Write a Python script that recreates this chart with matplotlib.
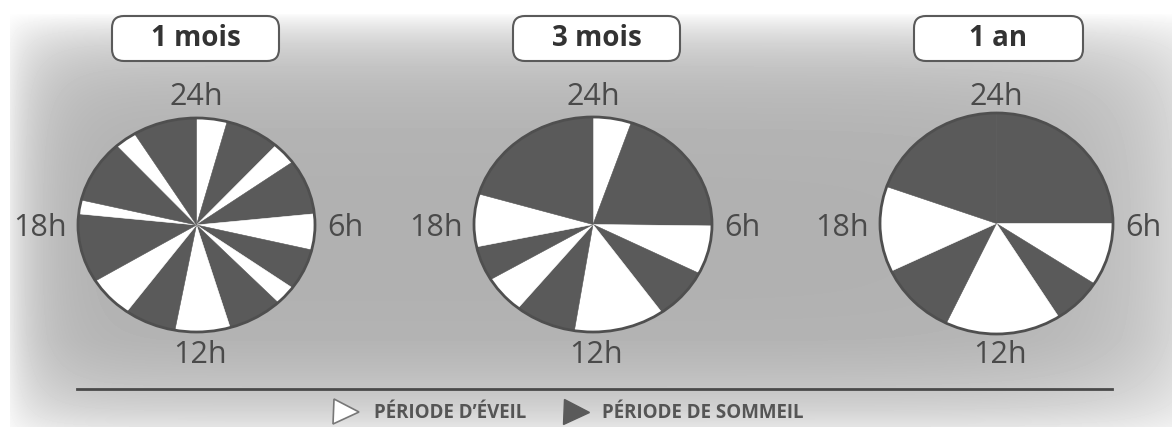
import matplotlib.pyplot as plt
from matplotlib.patches import FancyBboxPatch, Circle
import numpy as np

# durées (heures) à partir de 24h, dans le sens horaire, états alternés
titres = ['1 mois', '3 mois', '1 an']
pie1_heures = [1.0, 1.8, 0.8, 2.0, 1.3, 1.5, 0.7, 1.8, 1.8, 1.7, 1.5, 2.5, 0.5, 2.3, 0.7, 2.1]
pie2_heures = [1.25, 4.8, 1.75, 1.85, 2.95, 2.0, 1.35, 1.25, 1.9, 4.9]
pie3_heures = [6.0, 2.2, 1.65, 3.85, 2.6, 3.0, 4.7]
premier_etat = ['eveil', 'eveil', 'sommeil']
heures_labels = ['24h', '6h', '12h', '18h']
legende = ['PÉRIODE D’ÉVEIL', 'PÉRIODE DE SOMMEIL']

W, H = 1172, 434
BLANC = '#ffffff'
SOMBRE = '#5a5a5a'
TXT = '#4a4a4a'
plt.rcParams['font.family'] = ['Open Sans', 'DejaVu Sans']

fig = plt.figure(figsize=(W / 100, H / 100), dpi=100)
ax = fig.add_axes([0, 0, 1, 1])
ax.set_xlim(0, W)
ax.set_ylim(H, 0)
ax.axis('off')

# fond gris avec bords éclaircis
x = np.arange(W) + 0.5
y = np.arange(H) + 0.5
X, Y = np.meshgrid(x, y)
x0, x1, y0, y1 = 10, W, 14, 427
dl = np.clip(X - x0, 0, None)
dr = np.clip(x1 - X, 0, None)
dt = np.clip(Y - y0, 0, None)
db = np.clip(y1 - Y, 0, None)
L = 1 - (1 - 0.75 * np.exp(-dl / 30)) * (1 - 0.45 * np.exp(-dr / 70)) \
    * (1 - 0.95 * np.exp(-dt / 40)) * (1 - 0.6 * np.exp(-db / 35))
base = 0.69 + 0.05 * np.clip((Y - 340) / 90, 0, 1)
fond = base + (1 - base) * L
fond[(X < x0) | (Y < y0) | (Y > y1)] = 1.0
ax.imshow(fond, cmap='gray', vmin=0, vmax=1, extent=[0, W, H, 0], aspect='auto',
          interpolation='bilinear', zorder=0)

# camemberts
boites = [(78, 315, 118, 332), (474, 712, 117, 332), (880, 1113, 113, 334)]
donnees = [pie1_heures, pie2_heures, pie3_heures]
for (bx0, bx1, by0, by1), vals, etat in zip(boites, donnees, premier_etat):
    pax = fig.add_axes([bx0 / W, 1 - by1 / H, (bx1 - bx0) / W, (by1 - by0) / H])
    c0, c1 = (BLANC, SOMBRE) if etat == 'eveil' else (SOMBRE, BLANC)
    cols = [c0 if i % 2 == 0 else c1 for i in range(len(vals))]
    pax.pie(vals, colors=cols, startangle=90, counterclock=False, radius=1,
            wedgeprops=dict(linewidth=0.4))
    for w, c in zip(pax.patches, cols):
        w.set_edgecolor(c)
    pax.add_patch(Circle((0, 0), 1, fill=False, ec='#4f4f4f', lw=2, clip_on=False))
    pax.set_aspect('auto')
    pax.set_xlim(-1, 1)
    pax.set_ylim(-1, 1)
    pax.axis('off')

    cx = (bx0 + bx1) / 2
    ax.text(cx, 97, heures_labels[0], ha='center', va='center', fontsize=22, color=TXT)
    ax.text(cx + 3, 355, heures_labels[2], ha='center', va='center', fontsize=22, color=TXT)
    ax.text(bx1 + 30, 228, heures_labels[1], ha='center', va='center', fontsize=22, color=TXT)
    ax.text(bx0 - 38, 228, heures_labels[3], ha='center', va='center', fontsize=22, color=TXT)

# titres dans des cadres arrondis
cadres = [(112, 279), (513, 680), (914, 1083)]
for (tx0, tx1), t in zip(cadres, titres):
    ax.add_patch(FancyBboxPatch((tx0 + 12, 16 + 12), tx1 - tx0 - 24, 45 - 24,
                                boxstyle='round,pad=12', fc='white', ec='#5a5a5a', lw=1.5, zorder=3))
    ax.text((tx0 + tx1) / 2, 39, t, ha='center', va='center', fontsize=20,
            fontweight='bold', color='#333333', zorder=4)

# ligne et légende
ax.plot([77, 1112], [389, 389], color='#4a4a4a', lw=2)
ax.plot([346], [412], marker='>', ms=18, mfc='white', mec='#777777', mew=1.2, ls='none')
ax.plot([576], [412], marker='>', ms=18, mfc=SOMBRE, mec=SOMBRE, ls='none')
ax.text(374, 413, legende[0], ha='left', va='center', fontsize=13.5, fontweight='bold', color='#555555')
ax.text(602, 413, legende[1], ha='left', va='center', fontsize=13.5, fontweight='bold', color='#555555')

fig.savefig('out.png', dpi=100)
